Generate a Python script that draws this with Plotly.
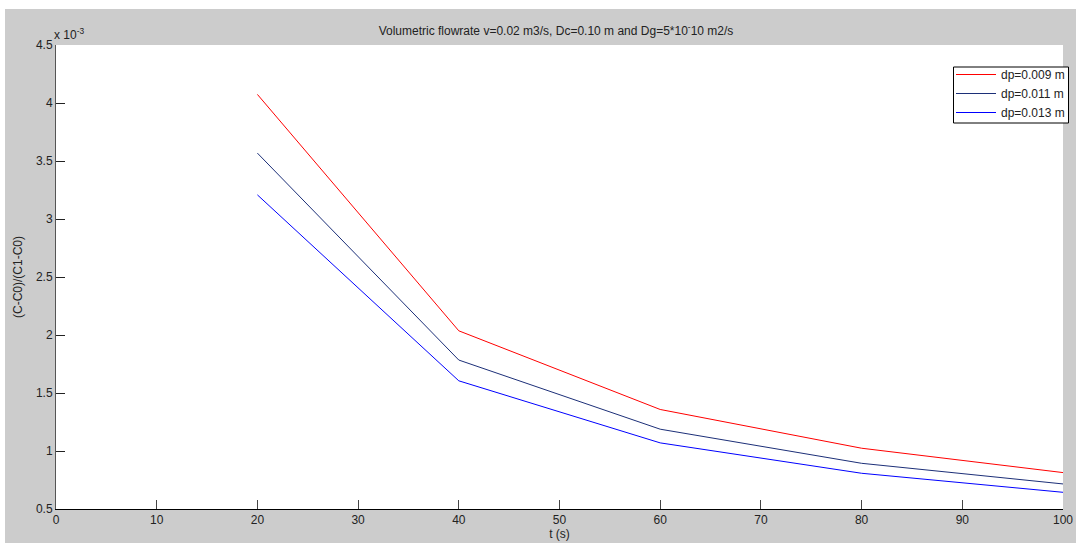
import plotly.graph_objects as go

t = [20, 40, 60, 80, 100]
dp_009 = [4.074e-3, 2.036e-3, 1.358e-3, 1.024e-3, 0.814e-3]
dp_011 = [3.568e-3, 1.784e-3, 1.188e-3, 0.894e-3, 0.716e-3]
dp_013 = [3.208e-3, 1.605e-3, 1.070e-3, 0.808e-3, 0.644e-3]
names = ["dp=0.009 m", "dp=0.011 m", "dp=0.013 m"]
colors = ["#ff0000", "#1c2f78", "#0000ff"]

x_ticks = [0, 10, 20, 30, 40, 50, 60, 70, 80, 90, 100]
y_tick_vals = [0.5e-3, 1e-3, 1.5e-3, 2e-3, 2.5e-3, 3e-3, 3.5e-3, 4e-3, 4.5e-3]
y_tick_text = ["0.5", "1", "1.5", "2", "2.5", "3", "3.5", "4", "4.5"]

W, H = 1076, 543
L, R, T, B = 56, 13, 45, 34
pw, ph = W - L - R, H - T - B

fig = go.Figure()
for ys, nm, c in zip([dp_009, dp_011, dp_013], names, colors):
    fig.add_trace(go.Scatter(x=t, y=ys, mode="lines", name=nm,
                             line=dict(color=c, width=1)))

font = dict(family="Liberation Sans, Arial, sans-serif", size=12, color="#222222")

def px_x(p):
    return (p - L) / pw

def px_y(p):
    return (H - B - p) / ph

fig.update_layout(
    width=W, height=H,
    margin=dict(l=L, r=R, t=T, b=B, pad=0, autoexpand=False),
    paper_bgcolor="#cccccc",
    plot_bgcolor="#ffffff",
    font=font,
    showlegend=True,
    title=dict(text="Volumetric flowrate v=0.02 m3/s, Dc=0.10 m and Dg=5*10<sup>-</sup>10 m2/s",
               x=px_x(556), xref="paper", xanchor="center",
               y=1 - 31 / H, yanchor="middle", font=font),
    legend=dict(x=px_x(951), y=px_y(60), xanchor="left", yanchor="top",
                bgcolor="rgba(0,0,0,0)", borderwidth=0,
                font=font, itemwidth=40, tracegroupgap=0),
    xaxis=dict(range=[0, 100], tickvals=x_ticks, ticks="inside", ticklen=9,
               tickcolor="#444444", showline=True, linecolor="#000000",
               linewidth=1, showgrid=False, zeroline=False, mirror=False,
               automargin=False,
               title=dict(text="t (s)", font=font, standoff=0), tickfont=font),
    yaxis=dict(range=[0.5e-3, 4.5e-3], tickvals=y_tick_vals, ticktext=y_tick_text,
               ticks="inside", ticklen=9, tickcolor="#222222", showline=True,
               linecolor="#555555", linewidth=1, showgrid=False, zeroline=False,
               automargin=False,
               title=dict(text="(C-C0)/(C1-C0)", font=font, standoff=10),
               tickfont=font),
    shapes=[
        dict(type="rect", xref="paper", yref="paper",
             x0=px_x(-20), x1=px_x(5), y0=px_y(H + 20), y1=px_y(-20),
             fillcolor="#ffffff", line=dict(width=0), layer="above"),
        dict(type="rect", xref="paper", yref="paper",
             x0=px_x(-20), x1=px_x(W + 20), y0=px_y(9), y1=px_y(-20),
             fillcolor="#ffffff", line=dict(width=0), layer="above"),
        dict(type="rect", xref="paper", yref="paper",
             x0=px_x(953.5), x1=px_x(1068.5), y0=px_y(123), y1=px_y(67),
             fillcolor="#ffffff", line=dict(width=1, color="#000000"),
             layer="below"),
    ],
    annotations=[
        dict(text="x 10<sup>-3</sup>", xref="paper", yref="paper",
             x=px_x(52), y=px_y(44), xanchor="left", yanchor="bottom",
             showarrow=False, font=font),
    ],
)

fig.write_html("out.html", config={"displayModeBar": False},
               post_script="document.body.style.margin='0';document.body.style.overflow='hidden';")
